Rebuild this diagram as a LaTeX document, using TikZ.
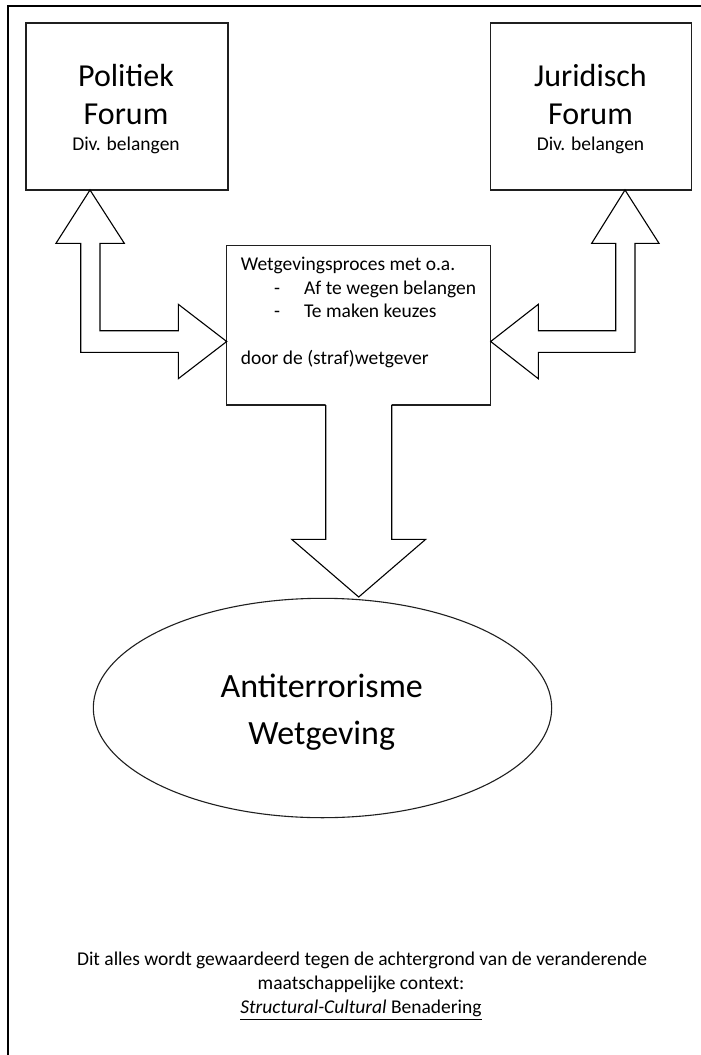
\documentclass[tikz,border=0pt]{standalone}
\usepackage{fontspec}
\setmainfont{Carlito}
\usetikzlibrary{shapes.geometric,calc}
\begin{document}
\begin{tikzpicture}[x=1pt,y=-1pt,
  box/.style={draw=black!88, line width=1.2pt, rectangle, inner sep=0pt},
  blk/.style={draw=black, line width=1.1pt, fill=white, line join=miter},
  txt/.style={inner sep=0pt, anchor=base},
  big/.style={font=\fontsize{32}{38}\selectfont},
  small/.style={font=\fontsize{19.5}{23}\selectfont},
  huge/.style={font=\fontsize{34}{47}\selectfont}]
\useasboundingbox (0,0) rectangle (701,1055);
\clip (0,0) rectangle (701,1055);
\fill[white] (0,0) rectangle (701,1055);
% outer frame
\draw[line width=2pt] (8,6) rectangle (730,1090);

% boxes
\node[box, minimum width=202pt, minimum height=167pt] (pol) at (127,106.5) {};
\node[box, minimum width=201pt, minimum height=167pt] (jur) at (591.2,106.5) {};
\node[box, minimum width=264pt, minimum height=159.3pt] (wet) at (358.7,325.35) {};
\node[draw=black!88, line width=1.1pt, ellipse, inner sep=0pt,
      minimum width=458.4pt, minimum height=219.4pt] (ant) at (322.5,708) {};

% left double arrow
\draw[blk] (90,190) -- (124.3,243.3) -- (100,243.3) -- (100,330.7) -- (178.3,330.7)
  -- (178.3,304.3) -- (226.7,341.5) -- (178.3,378.7) -- (178.3,352.3)
  -- (80.7,352.3) -- (80.7,243.3) -- (56,243.3) -- cycle;
% right double arrow
\draw[blk] (625,190) -- (659,243.3) -- (635,243.3) -- (635,352.3) -- (538.3,352.3)
  -- (538.3,378.7) -- (490.7,341.5) -- (538.3,304.3) -- (538.3,330.7)
  -- (615.7,330.7) -- (615.7,243.3) -- (591.7,243.3) -- cycle;
% down arrow
\fill[white] (325.7,404) -- (325.7,539.3) -- (291.7,539.3) -- (358.7,597)
  -- (425.7,539.3) -- (391.7,539.3) -- (391.7,404) -- cycle;
\draw[draw=black, line width=1.1pt, line join=miter]
  (325.7,405.2) -- (325.7,539.3) -- (291.7,539.3) -- (358.7,597)
  -- (425.7,539.3) -- (391.7,539.3) -- (391.7,405.2);

% texts top boxes
\node[txt, big] (polA) at (126,86) {Politiek};
\node[txt, big] (polB) at (126,124) {Forum};
\node[txt, small] (polC) at (126,150.7) {Div. belangen};
\node[txt, big] (jurA) at (590.5,86) {Juridisch};
\node[txt, big] (jurB) at (590.5,124) {Forum};
\node[txt, small] (jurC) at (590.5,150.7) {Div. belangen};

% center box text
\node[txt, small, anchor=base west] (w1) at (240.7,270.7) {Wetgevingsproces met o.a.};
\node[txt, small, anchor=base west] (d1) at (274,294) {-};
\node[txt, small, anchor=base west] (w2) at (304,294) {Af te wegen belangen};
\node[txt, small, anchor=base west] (d2) at (274,317.3) {-};
\node[txt, small, anchor=base west] (w3) at (304,317.3) {Te maken keuzes};
\node[txt, small, anchor=base west] (w4) at (240.7,364) {door de (straf)wetgever};

% ellipse text
\node[txt, huge] (e1) at (321.7,697.3) {Antiterrorisme};
\node[txt, huge] (e2) at (321.7,744.3) {Wetgeving};

% bottom text
\node[txt, small] (b1) at (362,965.5) {Dit alles wordt gewaardeerd tegen de achtergrond van de veranderende};
\node[txt, small] (b2) at (361,989.5) {maatschappelijke context:};
\node[txt, small] (b3) at (361,1013.5) {\textit{Structural-Cultural} Benadering};
\draw[line width=1pt] ($(b3.base west)+(0,5.5)$) -- ($(b3.base east)+(0,5.5)$);
\end{tikzpicture}
\end{document}
